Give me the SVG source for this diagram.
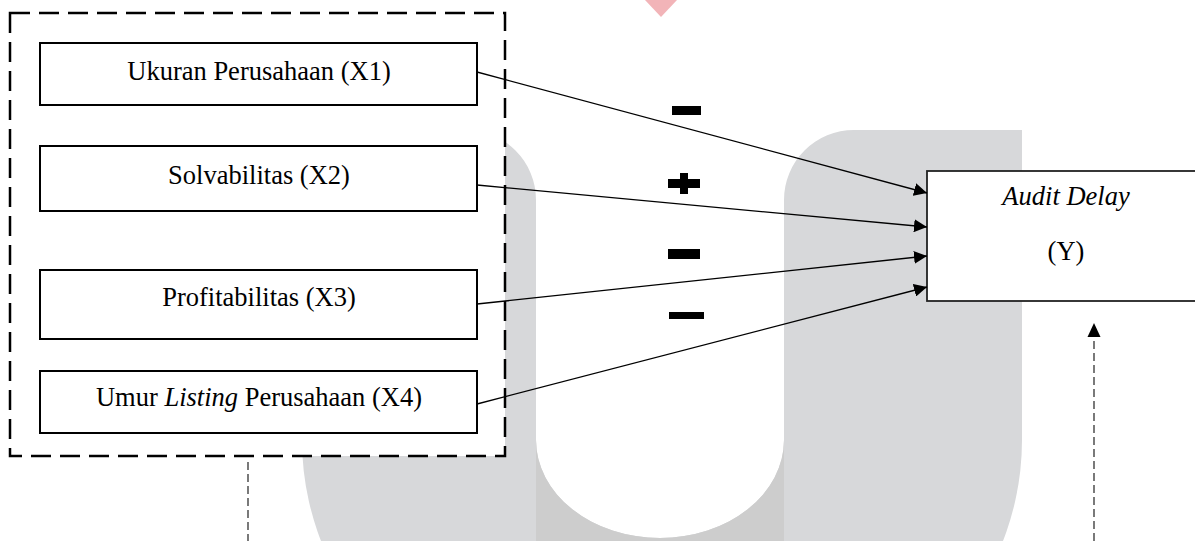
<svg xmlns="http://www.w3.org/2000/svg" width="1195" height="541" viewBox="0 0 1195 541">
<style>
.node{fill:#ffffff;stroke:#000000;stroke-width:2}
.lbl{font-family:"Liberation Serif","Times New Roman",serif;font-size:26.5px;fill:#000000;text-anchor:middle}
.it{font-style:italic}
.arrow{stroke:#000000;stroke-width:1.3;fill:none;marker-end:url(#ah)}
.dash{stroke:#333333;stroke-width:1.3;fill:none;stroke-dasharray:8 4}
.sign{fill:#000000}
</style>
<defs>
<marker id="ah" markerUnits="userSpaceOnUse" markerWidth="14" markerHeight="13" refX="13" refY="6.5" orient="auto">
<path d="M0,0 L13,6.5 L0,13 Z" fill="#000000"/>
</marker>
</defs>
<rect x="0" y="0" width="1195" height="541" fill="#ffffff"/>
<g id="watermark">
<path d="M303,130 L466,130 A70 70 0 0 1 536,200 L536,440 A124 98 0 0 0 784,440 L784,200 A70 70 0 0 1 854,130 L1022,130 L1022,440 A360 315 0 0 1 302,440 Z" fill="#d7d8da"/>
<path d="M536,440 A124 98 0 0 0 784,440 L784,541 L536,541 Z" fill="#cdcdcd"/>
<polygon points="645,0 677,0 661,17" fill="#f2b4b8"/>
</g>
<g id="group-x">
<rect x="10" y="13" width="495" height="443" fill="#ffffff" stroke="#000000" stroke-width="2.5" stroke-dasharray="20 9"/>
</g>
<g id="x1">
<rect class="node" x="40" y="43" width="437" height="62"/>
<text class="lbl" x="259" y="80">Ukuran Perusahaan (X1)</text>
</g>
<g id="x2">
<rect class="node" x="40" y="146" width="437" height="65"/>
<text class="lbl" x="259" y="184">Solvabilitas (X2)</text>
</g>
<g id="x3">
<rect class="node" x="40" y="270" width="437" height="69"/>
<text class="lbl" x="259" y="306">Profitabilitas (X3)</text>
</g>
<g id="x4">
<rect class="node" x="40" y="371" width="437" height="62"/>
<text class="lbl" x="259" y="406">Umur <tspan class="it">Listing</tspan> Perusahaan (X4)</text>
</g>
<g id="y">
<rect x="927" y="171" width="300" height="130" fill="#ffffff" stroke="#222222" stroke-width="1.8"/>
<text class="lbl it" x="1066" y="205">Audit Delay</text>
<text class="lbl" x="1066" y="260">(Y)</text>
</g>
<g id="connectors">
<line class="arrow" x1="477" y1="72" x2="927" y2="193"/>
<line class="arrow" x1="477" y1="185" x2="927" y2="227"/>
<line class="arrow" x1="477" y1="304" x2="927" y2="256"/>
<line class="arrow" x1="477" y1="404" x2="927" y2="287"/>
<line class="dash" x1="248" y1="462" x2="248" y2="541"/>
<line class="dash" x1="1094" y1="541" x2="1094" y2="336"/>
<path d="M1094,323 L1100.5,337 L1087.5,337 Z" fill="#000000"/>
</g>
<g id="signs">
<rect class="sign" x="672" y="106" width="29" height="9"/>
<rect class="sign" x="668" y="179" width="32" height="9"/>
<rect class="sign" x="680" y="173" width="8" height="21"/>
<rect class="sign" x="668" y="249" width="32" height="10"/>
<rect class="sign" x="669" y="312" width="35" height="7"/>
</g>
</svg>
